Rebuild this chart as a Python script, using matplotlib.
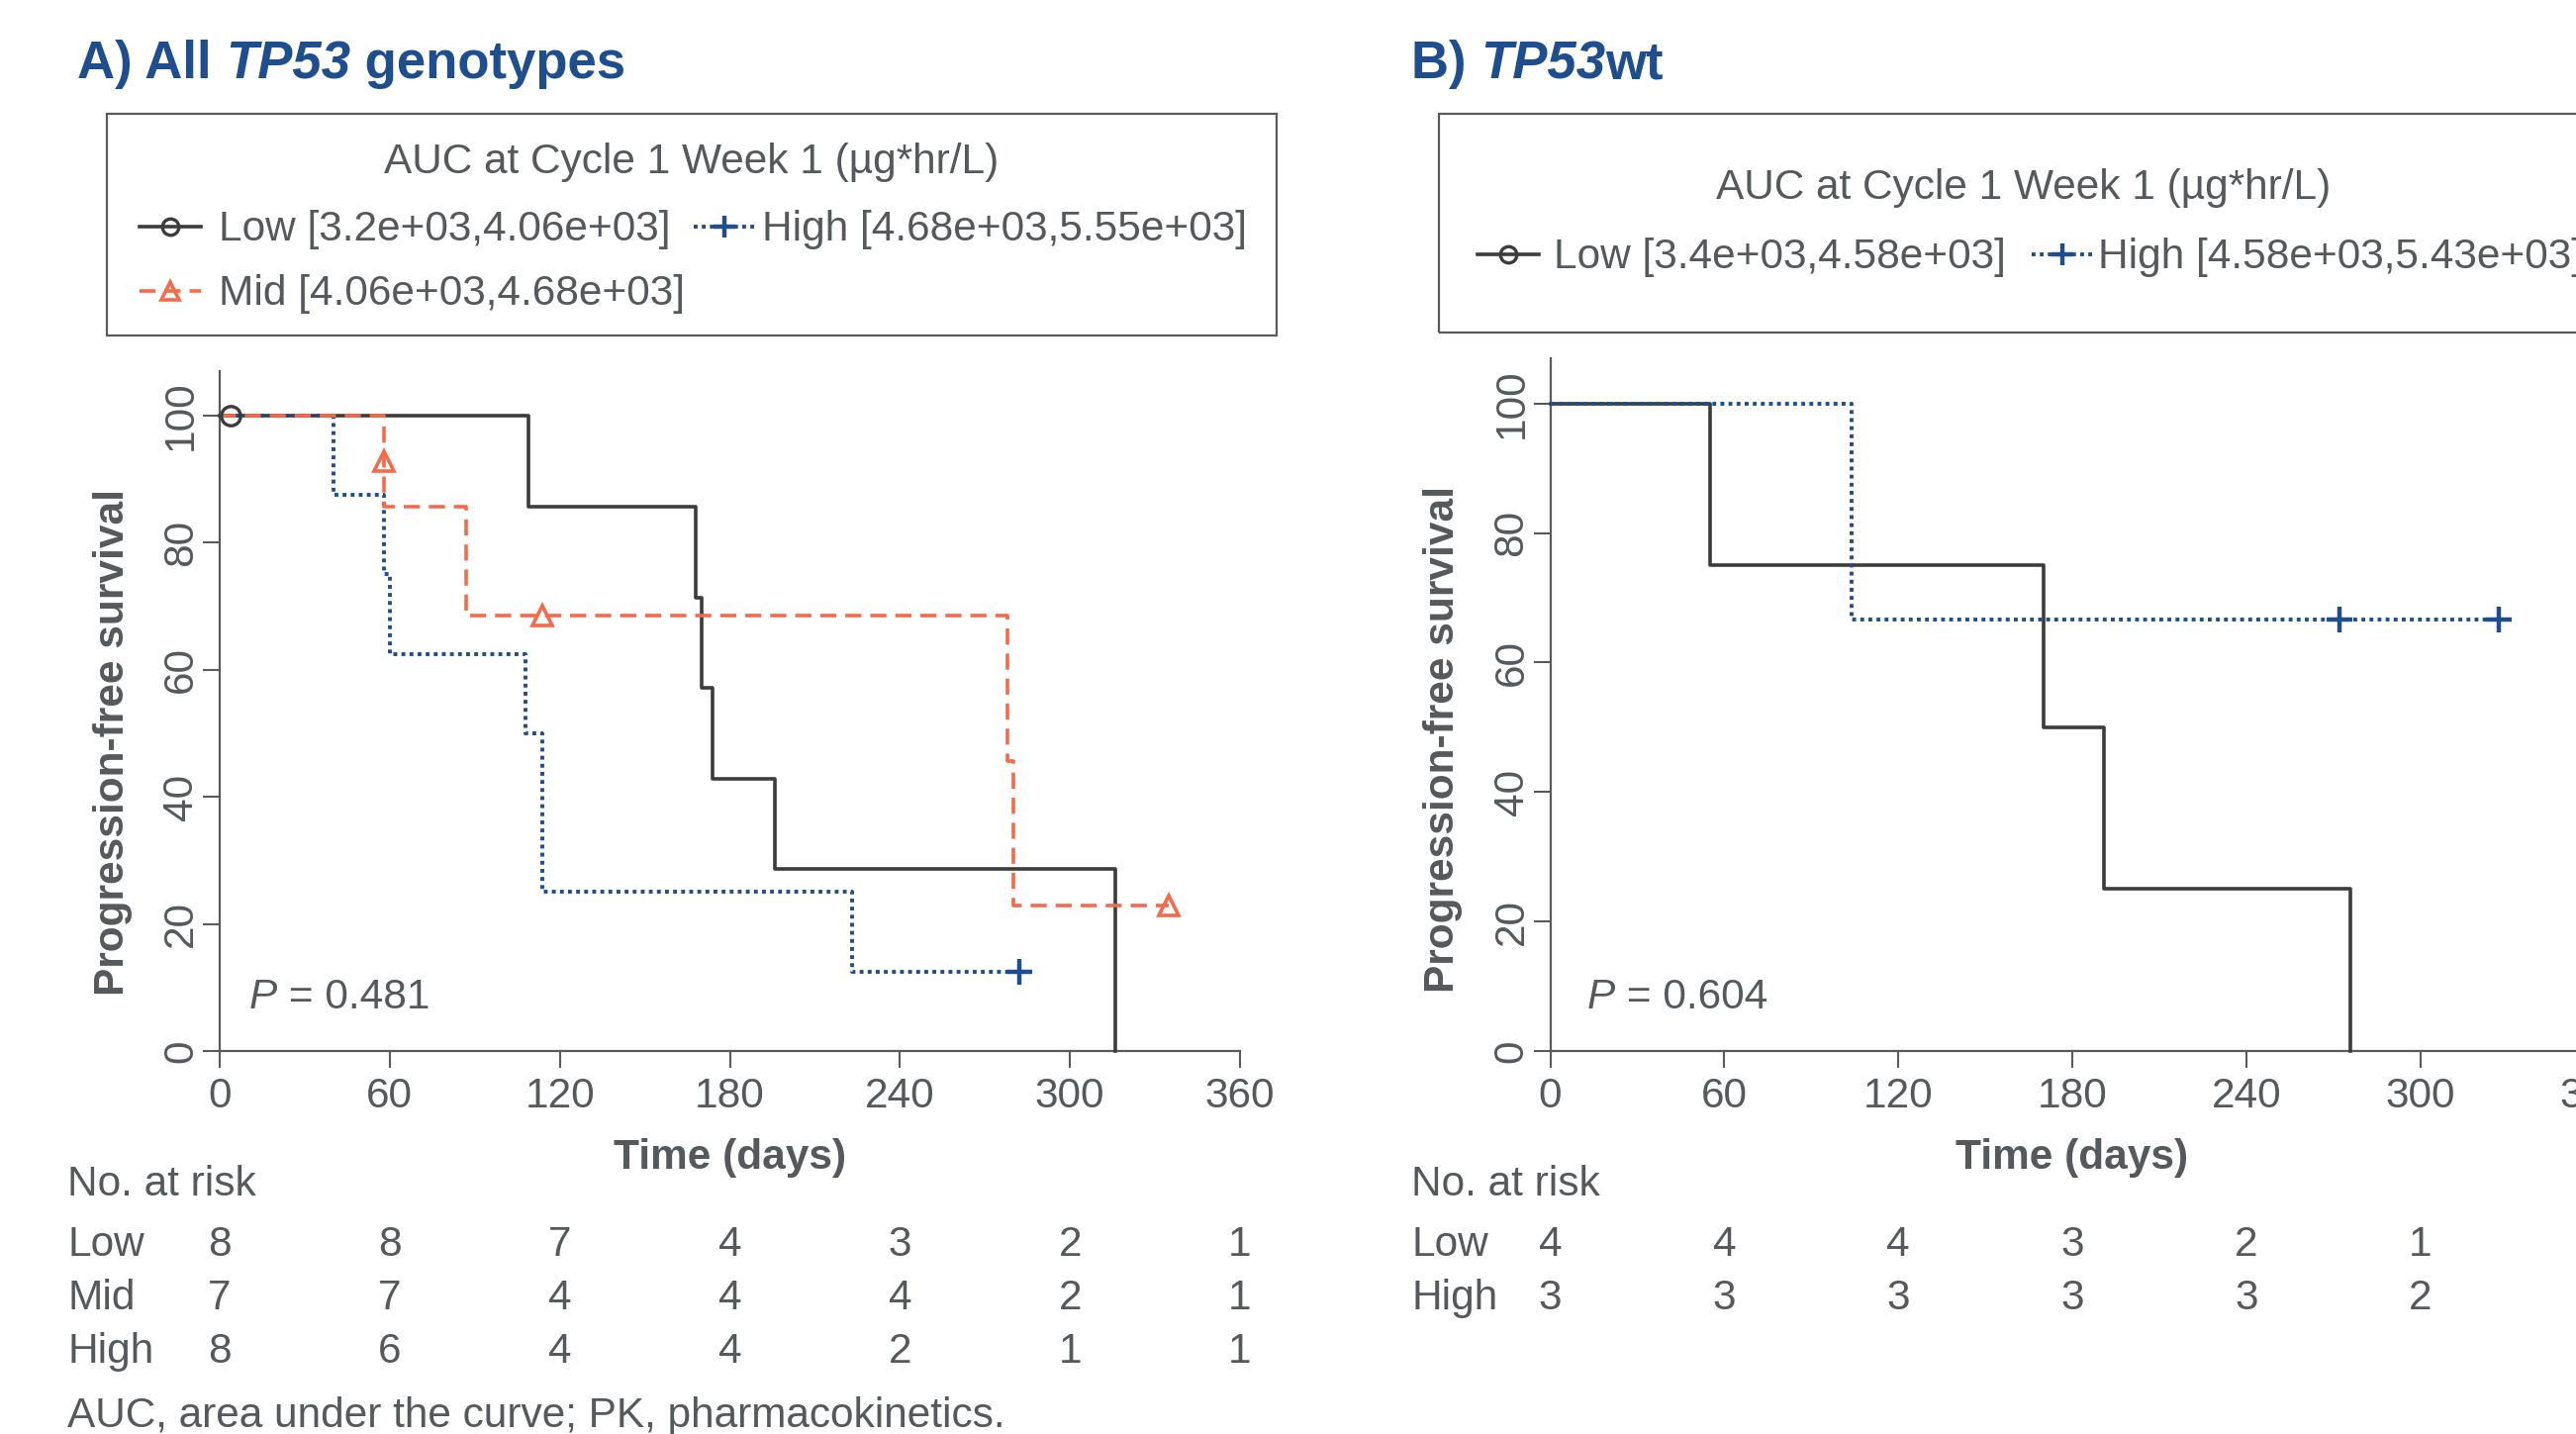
import matplotlib
matplotlib.use("Agg")
import matplotlib.pyplot as plt
from matplotlib.lines import Line2D
from matplotlib.patches import Rectangle
import matplotlib.transforms as mtransforms

plt.rcParams['font.family'] = ['Liberation Sans', 'DejaVu Sans']

# ---- data ----
# panel A (all TP53 genotypes), Kaplan-Meier steps
a_low_t = [0, 109, 168, 170, 174, 196, 316]
a_low_s = [100, 85.7, 71.4, 57.1, 42.9, 28.6, 0]
a_low_cens_t = [4]
a_low_cens_s = [100]

a_mid_t = [0, 58, 87, 278, 280, 335]
a_mid_s = [100, 85.7, 68.6, 45.7, 22.9, 22.9]
a_mid_cens_t = [58, 114, 335]
a_mid_cens_s = [92.9, 68.6, 22.9]

a_high_t = [0, 40, 58, 60, 108, 114, 223, 282]
a_high_s = [100, 87.5, 75, 62.5, 50, 25, 12.5, 12.5]
a_high_cens_t = [282]
a_high_cens_s = [12.5]

# panel B (TP53wt)
b_low_t = [0, 55, 170, 191, 276]
b_low_s = [100, 75, 50, 25, 0]
b_high_t = [0, 104, 327]
b_high_s = [100, 66.7, 66.7]
b_high_cens_t = [272, 327]
b_high_cens_s = [66.7, 66.7]

risk_times = [0, 60, 120, 180, 240, 300, 360]
a_risk_groups = ["Low", "Mid", "High"]
a_risk = [[8, 8, 7, 4, 3, 2, 1],
          [7, 7, 4, 4, 4, 2, 1],
          [8, 6, 4, 4, 2, 1, 1]]
b_risk_groups = ["Low", "High"]
b_risk = [[4, 4, 4, 3, 2, 1],
          [3, 3, 3, 3, 3, 2]]

a_labels = ["Low [3.2e+03,4.06e+03]", "Mid [4.06e+03,4.68e+03]", "High [4.68e+03,5.55e+03]"]
b_labels = ["Low [3.4e+03,4.58e+03]", "High [4.58e+03,5.43e+03]"]
p_a = "0.481"
p_b = "0.604"

# ---- styles ----
TXT = '#55595c'
AXC = '#5a5a5a'
C_LOW = '#3c3c3c'
C_MID = '#f26b4a'
C_HIGH = '#1f4e8f'
FS = 30.5
FS_TICK = 30.5

W, H = 2603, 1449
fig = plt.figure(figsize=(W / 100, H / 100), dpi=100)


def fx(px):
    return px / W


def fy(py):
    return 1 - py / H


styles = {
    'low': dict(color=C_LOW, ls='-', lw=2.6, marker='o', ms=14, mfc='none', mew=2.4),
    'mid': dict(color=C_MID, ls=(0, (4.5, 2.5)), lw=2.6, marker='^', ms=15, mfc='none', mew=2.6),
    'high': dict(color=C_HIGH, ls=(0, (1, 1.1)), lw=2.8, marker='+', ms=19, mfc='none', mew=3.2),
}


def km(ax, t, s, key, ct=None, cs=None):
    st = styles[key]
    ax.step(t, s, where='post', color=st['color'], ls=st['ls'], lw=st['lw'],
            clip_on=False, zorder=3)
    if ct:
        ax.plot(ct, cs, ls='none', marker=st['marker'], ms=st['ms'],
                mfc=st['mfc'], mec=st['color'], mew=st['mew'], clip_on=False, zorder=4)


def style_axes(ax, label_y):
    ax.set_xlim(0, 360)
    ax.set_ylim(0, 107)
    ax.set_xticks(risk_times)
    ax.set_yticks([0, 20, 40, 60, 80, 100])
    for sp in ['top', 'right']:
        ax.spines[sp].set_visible(False)
    for sp in ['left', 'bottom']:
        ax.spines[sp].set_color(AXC)
        ax.spines[sp].set_linewidth(1.6)
    ax.tick_params(length=12, width=1.5, color=AXC, labelcolor=TXT,
                   labelsize=FS_TICK, pad=7)
    for lab in ax.get_yticklabels():
        lab.set_rotation(90)
        lab.set_va('center')
        lab.set_ha('center')
    ax.tick_params(axis='y', pad=16)
    ax.set_xlabel("Time (days)", fontsize=FS, fontweight='bold', color=TXT, labelpad=15.5)
    ax.set_ylabel("Progression-free survival", fontsize=FS, fontweight='bold',
                  color=TXT, labelpad=21)
    ax.yaxis.label.set_y(label_y)
    ax.patch.set_visible(False)


def seg_text(x, y, parts, size, color):
    r = fig.canvas.get_renderer()
    for s, w, st in parts:
        t = fig.text(fx(x), fy(y), s, fontsize=size, fontweight=w, fontstyle=st,
                     color=color, va='baseline', ha='left')
        x += t.get_window_extent(r).width


axA = fig.add_axes([fx(222), fy(1062), 1031 / W, 687 / H])
axB = fig.add_axes([fx(1566.5), fy(1062), 1055 / W, 700 / H])

km(axA, a_low_t, a_low_s, 'low', a_low_cens_t, a_low_cens_s)
km(axA, a_high_t, a_high_s, 'high', a_high_cens_t, a_high_cens_s)
km(axA, a_mid_t, a_mid_s, 'mid', a_mid_cens_t, a_mid_cens_s)
km(axB, b_low_t, b_low_s, 'low')
km(axB, b_high_t, b_high_s, 'high', b_high_cens_t, b_high_cens_s)

style_axes(axA, 0.454)
style_axes(axB, 0.45)

# titles
seg_text(78, 79, [("A) All ", 'bold', 'normal'), ("TP53", 'bold', 'italic'),
                  (" genotypes", 'bold', 'normal')], 38, C_HIGH)
seg_text(1426, 79, [("B) ", 'bold', 'normal'), ("TP53", 'bold', 'italic'),
                    ("wt", 'bold', 'normal')], 38, C_HIGH)

# P values
for ax, p, x0 in ((axA, p_a, 252), (axB, p_b, 1604)):
    seg_text(x0, 1019, [("P", 'normal', 'italic'), (" = " + p, 'normal', 'normal')], FS, TXT)


# legends
def leg_handle(x, y, key):
    st = styles[key]
    fig.add_artist(Line2D([fx(x - 31), fx(x + 31)], [fy(y), fy(y)], color=st['color'],
                          ls=st['ls'], lw=st['lw'], transform=fig.transFigure))
    fig.add_artist(Line2D([fx(x)], [fy(y)], ls='none', marker=st['marker'], ms=st['ms'] * 0.85,
                          mfc='none', mec=st['color'], mew=st['mew'], transform=fig.transFigure))


fig.add_artist(Rectangle((fx(108), fy(339)), (1290 - 108) / W, (339 - 115) / H,
                         transform=fig.transFigure, fill=False, ec=AXC, lw=1.6))
fig.text(fx(699), fy(164), "AUC at Cycle 1 Week 1 (µg*hr/L)", fontsize=FS, color=TXT,
         ha='center', va='center')
leg_handle(172, 229, 'low')
fig.text(fx(221), fy(232), a_labels[0], fontsize=FS, color=TXT, va='center')
leg_handle(172, 294, 'mid')
fig.text(fx(221), fy(297), a_labels[1], fontsize=FS, color=TXT, va='center')
leg_handle(732, 229, 'high')
fig.text(fx(770), fy(232), a_labels[2], fontsize=FS, color=TXT, va='center')

fig.add_artist(Rectangle((fx(1454), fy(336)), (2800 - 1454) / W, (336 - 115) / H,
                         transform=fig.transFigure, fill=False, ec=AXC, lw=1.6))
fig.text(fx(2045), fy(190), "AUC at Cycle 1 Week 1 (µg*hr/L)", fontsize=FS, color=TXT,
         ha='center', va='center')
leg_handle(1524, 257, 'low')
fig.text(fx(1570), fy(260), b_labels[0], fontsize=FS, color=TXT, va='center')
leg_handle(2084, 257, 'high')
fig.text(fx(2120), fy(260), b_labels[1], fontsize=FS, color=TXT, va='center')

# number at risk tables
for ax, x0, groups, table in ((axA, 68, a_risk_groups, a_risk),
                              (axB, 1426, b_risk_groups, b_risk)):
    fig.text(fx(x0), fy(1197), "No. at risk", fontsize=FS, color=TXT, va='center')
    tr = mtransforms.blended_transform_factory(ax.transData, fig.transFigure)
    for i, (g, row) in enumerate(zip(groups, table)):
        yy = fy(1258 + i * 54)
        fig.text(fx(x0), yy, g, fontsize=FS, color=TXT, va='center')
        for t, n in zip(risk_times, row):
            fig.text(t, yy, str(n), fontsize=FS, color=TXT, va='center', ha='center',
                     transform=tr)

fig.text(fx(68), fy(1431), "AUC, area under the curve; PK, pharmacokinetics.",
         fontsize=FS, color=TXT, va='center')

fig.savefig("out.png", dpi=100)
